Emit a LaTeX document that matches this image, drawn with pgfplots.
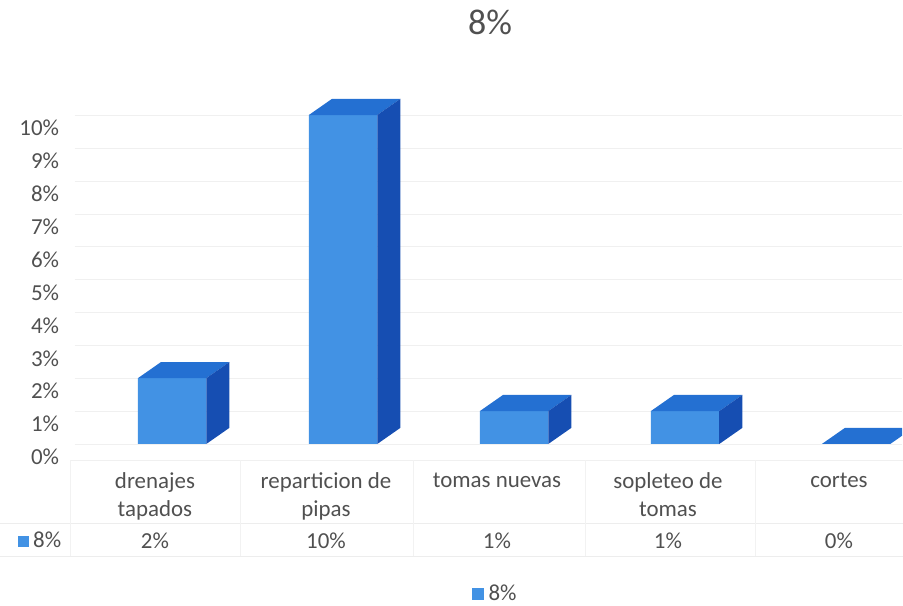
\documentclass[border=0pt]{standalone}
\usepackage{fontspec}
\setmainfont{Carlito}
\usepackage{pgfplots}
\pgfplotsset{compat=1.18}
\definecolor{bfront}{RGB}{66,146,228}
\definecolor{btop}{RGB}{36,112,210}
\definecolor{bside}{RGB}{22,78,178}
\definecolor{txt}{RGB}{80,80,80}
\begin{document}
\begin{tikzpicture}
\path[use as bounding box] (0bp,0bp) rectangle (903bp,606bp);
% faint table lines
\draw[gray!12] (70bp,146bp) -- (903bp,146bp);
\draw[gray!14] (0bp,83bp) -- (903bp,83bp);
\draw[gray!14] (0bp,50bp) -- (903bp,50bp);
\foreach \xx in {70,240,413,585,755} {\draw[gray!10] (\xx bp,146bp) -- (\xx bp,50bp);}
\begin{axis}[
  at={(74.6bp,162bp)}, anchor=south west,
  scale only axis, width=827.6bp, height=358.6bp,
  xmin=-0.47, xmax=4.37, ymin=0, ymax=10.9,
  axis line style={draw=none},
  major tick length=0pt,
  xtick={0,1,2,3,4},
  xticklabels={{drenajes\\tapados},{reparticion de\\pipas},{tomas nuevas},{sopleteo de\\tomas},{cortes}},
  xticklabel style={align=center, anchor=north, font=\fontsize{23}{28}\selectfont, text=txt, yshift=-25bp},
  extra x ticks={0,1,2,3,4},
  extra x tick labels={2\%,10\%,1\%,1\%,0\%},
  extra x tick style={grid=none, xticklabel style={yshift=-60bp}},
  ytick={0,1,2,3,4,5,6,7,8,9,10},
  yticklabels={0\%,1\%,2\%,3\%,4\%,5\%,6\%,7\%,8\%,9\%,10\%},
  yticklabel style={anchor=east, font=\fontsize{23}{28}\selectfont, text=txt, xshift=-12bp, yshift=-13bp},
  ymajorgrids, grid style={gray!12},
  title={8\%},
  title style={at={(0.502,1.16)}, anchor=center, font=\fontsize{36}{40}\selectfont, text=txt},
  legend style={at={(0.508,-0.418)}, anchor=center, draw=none, fill=none, font=\fontsize{23}{28}\selectfont, text=txt, inner sep=0pt},
  legend image code/.code={\fill[bfront] (0bp,-6bp) rectangle (12bp,6bp);},
]
\addplot[ybar, bar width=0.4, fill=bfront, draw=none] coordinates {(0.1,2) (1.1,10) (2.1,1) (3.1,1) (4.1,0)};
\addlegendentry{\hspace{3bp}8\%}
% top faces
\addplot[fill=btop, draw=none, forget plot] coordinates {(-0.1,2) (0.3,2) (0.435,2.49) (0.035,2.49)} -- cycle;
\addplot[fill=btop, draw=none, forget plot] coordinates {(0.9,10) (1.3,10) (1.435,10.49) (1.035,10.49)} -- cycle;
\addplot[fill=btop, draw=none, forget plot] coordinates {(1.9,1) (2.3,1) (2.435,1.49) (2.035,1.49)} -- cycle;
\addplot[fill=btop, draw=none, forget plot] coordinates {(2.9,1) (3.3,1) (3.435,1.49) (3.035,1.49)} -- cycle;
\addplot[fill=btop, draw=none, forget plot] coordinates {(3.9,0) (4.3,0) (4.435,0.49) (4.035,0.49)} -- cycle;
% side faces
\addplot[fill=bside, draw=none, forget plot] coordinates {(0.3,0) (0.435,0.49) (0.435,2.49) (0.3,2)} -- cycle;
\addplot[fill=bside, draw=none, forget plot] coordinates {(1.3,0) (1.435,0.49) (1.435,10.49) (1.3,10)} -- cycle;
\addplot[fill=bside, draw=none, forget plot] coordinates {(2.3,0) (2.435,0.49) (2.435,1.49) (2.3,1)} -- cycle;
\addplot[fill=bside, draw=none, forget plot] coordinates {(3.3,0) (3.435,0.49) (3.435,1.49) (3.3,1)} -- cycle;
\end{axis}
\node[anchor=west, text=txt, font=\fontsize{23}{28}\selectfont, inner sep=0pt] at (18bp,66bp) {\textcolor{bfront}{\rule[0.5bp]{11bp}{11bp}}\hspace{4bp}8\%};
\end{tikzpicture}
\end{document}
